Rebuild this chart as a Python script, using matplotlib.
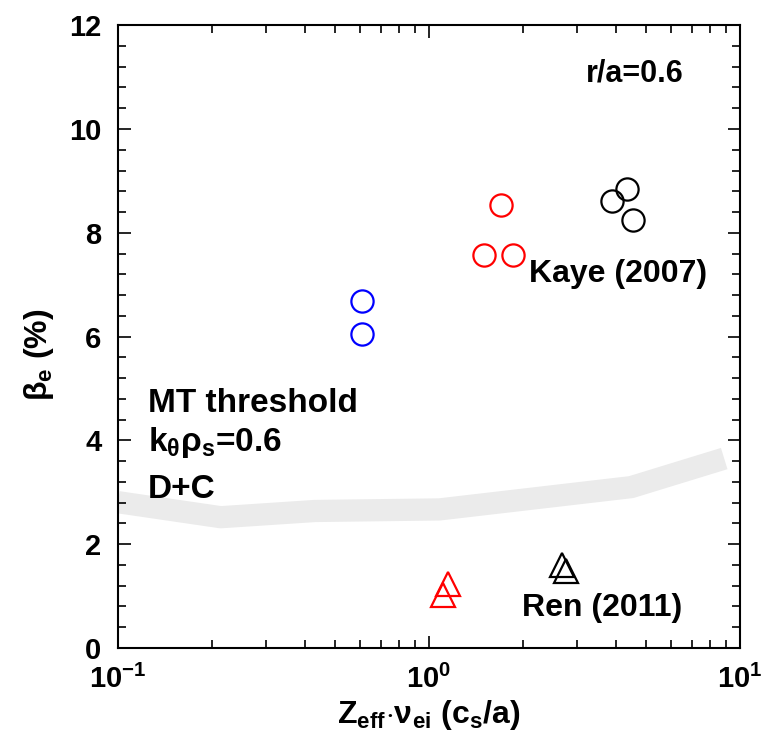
import numpy as np
import matplotlib
matplotlib.use('Agg')
import matplotlib.pyplot as plt
from matplotlib.ticker import LogLocator, MultipleLocator, NullFormatter

plt.rcParams['font.family'] = ['Liberation Sans', 'DejaVu Sans']
plt.rcParams['font.weight'] = 'bold'
plt.rcParams['axes.labelweight'] = 'bold'
plt.rcParams['axes.unicode_minus'] = False
plt.rcParams['mathtext.fontset'] = 'custom'
plt.rcParams['mathtext.rm'] = 'Liberation Sans:bold'
plt.rcParams['mathtext.it'] = 'Liberation Sans:bold'
plt.rcParams['mathtext.bf'] = 'Liberation Sans:bold'

# MT threshold band (D+C, k_theta rho_s = 0.6)
band_x = [0.1, 0.214, 0.43, 1.08, 4.47, 8.9]
band_y = [2.81, 2.52, 2.64, 2.67, 3.10, 3.65]

# Kaye (2007) circles
blue_x = [0.61, 0.61]
blue_y = [6.68, 6.05]
red_x = [1.70, 1.50, 1.86]
red_y = [8.53, 7.57, 7.57]
black_x = [3.87, 4.34, 4.53]
black_y = [8.61, 8.84, 8.24]

# Ren (2011) triangles
red_tri_x = [1.15, 1.11]
red_tri_y = [1.23, 1.02]
black_tri_x = [2.68, 2.76]
black_tri_y = [1.60, 1.48]

fig = plt.figure(figsize=(7.66, 7.41), dpi=100)
ax = fig.add_axes([0.154, 0.1255, 0.812, 0.8405])

ax.plot(band_x, band_y, color='#ebebeb', lw=16, solid_capstyle='butt', zorder=1)

mk = dict(ls='none', mfc='none', mew=1.6, zorder=3)
ax.plot(blue_x, blue_y, 'o', mec='#0000ff', ms=16, **mk)
ax.plot(red_x, red_y, 'o', mec='#ff0000', ms=16, **mk)
ax.plot(black_x, black_y, 'o', mec='black', ms=16, **mk)
ax.plot(red_tri_x, red_tri_y, '^', mec='#ff0000', ms=17, **mk)
ax.plot(black_tri_x, black_tri_y, '^', mec='black', ms=17, **mk)

ax.set_xscale('log')
ax.set_xlim(0.1, 10)
ax.set_ylim(0, 12)
ax.yaxis.set_major_locator(MultipleLocator(2))
ax.yaxis.set_minor_locator(MultipleLocator(0.4))
ax.xaxis.set_major_locator(LogLocator(base=10))
ax.xaxis.set_minor_locator(LogLocator(base=10, subs=np.arange(2, 10)))
ax.xaxis.set_minor_formatter(NullFormatter())

for s in ax.spines.values():
    s.set_linewidth(1.5)
ax.tick_params(which='both', direction='in', top=True, right=True, width=1.2, labelsize=21, pad=12)
ax.tick_params(which='major', length=9)
ax.tick_params(which='minor', length=6)
ax.tick_params(axis='x', which='major', pad=12, labelsize=21)

ax.set_xlabel(r'Z$_\mathregular{eff}$$\cdot$ν$_\mathregular{ei}$ (c$_\mathregular{s}$/a)', fontsize=23)
ax.xaxis.set_label_coords(0.5, -0.08)
ax.set_ylabel(r'β$_\mathregular{e}$ (%)', fontsize=23)
ax.yaxis.set_label_coords(-0.1, 0.47)

ax.text(4.59, 11.06, 'r/a=0.6', ha='center', va='center', fontsize=22)
ax.text(4.06, 7.20, 'Kaye (2007)', ha='center', va='center', fontsize=23)
ax.text(3.60, 0.78, 'Ren (2011)', ha='center', va='center', fontsize=23)
ax.text(0.125, 4.72, 'MT threshold', ha='left', va='center', fontsize=24)
ax.text(0.125, 3.95, r'k$_\mathregular{θ}$ρ$_\mathregular{s}$=0.6', ha='left', va='center', fontsize=24)
ax.text(0.125, 3.05, 'D+C', ha='left', va='center', fontsize=24)

fig.savefig('out.png', dpi=100)
